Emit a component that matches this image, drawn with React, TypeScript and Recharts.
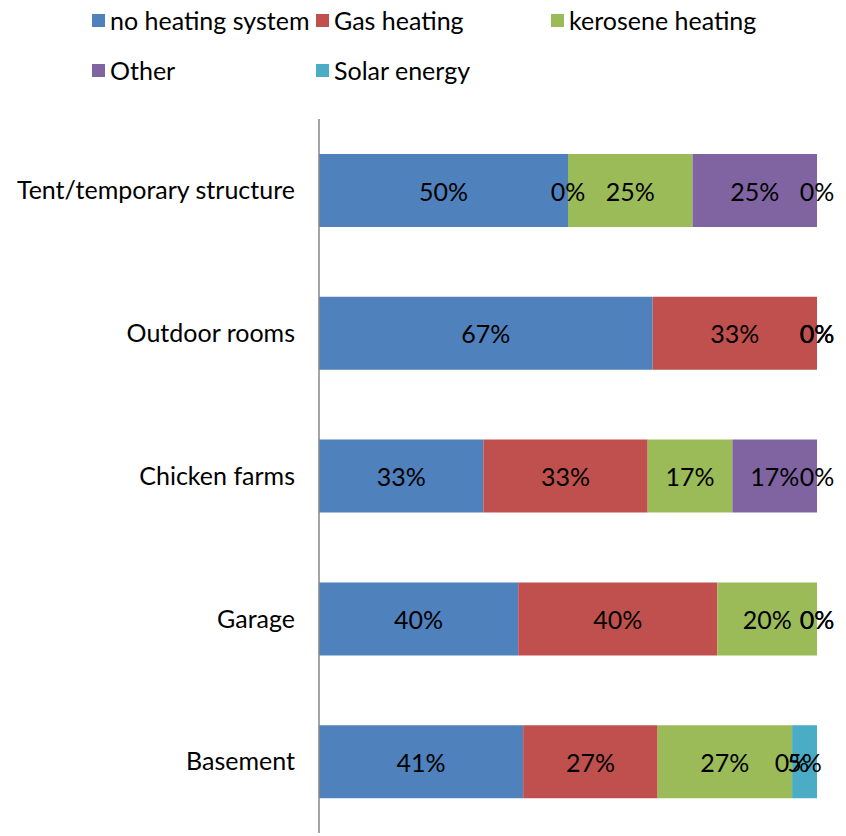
import { BarChart, Bar, XAxis, YAxis, LabelList } from "recharts";

const places = [
  "Tent/temporary structure",
  "Outdoor rooms",
  "Chicken farms",
  "Garage",
  "Basement",
];
const noHeating = [50, 67, 33, 40, 41];
const gas = [0, 33, 33, 40, 27];
const kerosene = [25, 0, 17, 20, 27];
const other = [25, 0, 17, 0, 0];
const solar = [0, 0, 0, 0, 5];

const series = [
  { key: "noHeating", name: "no heating system", color: "#4F81BD", values: noHeating },
  { key: "gas", name: "Gas heating", color: "#C0504D", values: gas },
  { key: "kerosene", name: "kerosene heating", color: "#9BBB59", values: kerosene },
  { key: "other", name: "Other", color: "#8064A2", values: other },
  { key: "solar", name: "Solar energy", color: "#4BACC6", values: solar },
];

const data = places.map((place, i) => ({
  place,
  noHeating: noHeating[i],
  gas: gas[i],
  kerosene: kerosene[i],
  other: other[i],
  solar: solar[i],
}));

const font = "Lato, 'Open Sans', sans-serif";

const legendSpots = [
  { left: 92, top: 20 },
  { left: 316, top: 20 },
  { left: 551, top: 20 },
  { left: 92, top: 70 },
  { left: 316, top: 70 },
];

// Excel prints "0%" even for empty segments, so all labels of a row are drawn
// from the first segment's rectangle (its width gives the scale per percent)
const RowLabels = (props: any) => {
  const { x, y, width, height, index } = props;
  const perUnit = width / noHeating[index];
  let start = 0;
  return (
    <g>
      {series.map((s) => {
        const v = s.values[index];
        const cx = x + (start + v / 2) * perUnit;
        start += v;
        return (
          <text
            key={s.key}
            x={cx}
            y={y + height / 2}
            textAnchor="middle"
            dominantBaseline="central"
            fill="#000"
            fontSize={25}
            fontFamily={font}
          >
            {v}%
          </text>
        );
      })}
    </g>
  );
};

export default function App() {
  return (
    <div style={{ position: "absolute", left: 0, top: 0, width: 846, height: 836, background: "#fff", fontFamily: font }}>
      {series.map((s, i) => (
        <div
          key={s.key}
          style={{
            position: "absolute",
            left: legendSpots[i].left,
            top: legendSpots[i].top - 14,
            height: 28,
            display: "flex",
            alignItems: "center",
            fontSize: 25,
            color: "#000",
            whiteSpace: "nowrap",
          }}
        >
          <span style={{ display: "inline-block", width: 13, height: 13, background: s.color, marginRight: 5 }} />
          {s.name}
        </div>
      ))}
      <BarChart
        width={846}
        height={836}
        data={data}
        layout="vertical"
        margin={{ top: 119, right: 29, bottom: 3, left: 0 }}
        barSize={73}
      >
        <XAxis type="number" domain={[0, 100]} hide />
        <YAxis
          type="category"
          dataKey="place"
          width={319}
          tickLine={false}
          tickSize={0}
          tickMargin={24}
          axisLine={{ stroke: "#868686", strokeWidth: 1.5 }}
          tick={{ fill: "#000", fontSize: 25, fontFamily: font }}
        />
        {series.map((s, i) => (
          <Bar key={s.key} dataKey={s.key} name={s.name} stackId="a" fill={s.color} isAnimationActive={false}>
            {i === 0 && <LabelList dataKey={s.key} content={RowLabels} />}
          </Bar>
        ))}
      </BarChart>
    </div>
  );
}
